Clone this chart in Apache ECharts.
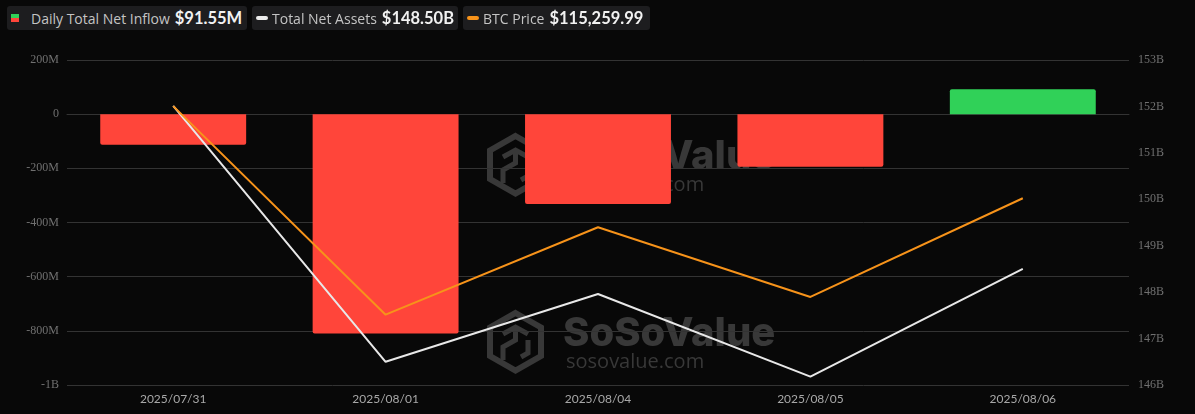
<!DOCTYPE html>
<html>
<head>
<meta charset="utf-8">
<script src="https://cdn.jsdelivr.net/npm/echarts@6/dist/echarts.min.js"></script>
<style>
  html, body { margin:0; padding:0; background:#080808; }
  #chart { position:absolute; left:0; top:0; width:1195px; height:414px; }
  .lg { position:absolute; top:6px; height:24px; background:#1d1d1f; border-radius:3px;
        display:flex; align-items:center; font-family:Lato, "Open Sans", sans-serif; white-space:nowrap; z-index:5; }
  .lg .t { font-size:14px; color:#c4c4c4; font-family:"Open Sans", sans-serif; letter-spacing:0; }
  .lg .v { font-size:16.5px; font-weight:700; color:#f2f2f2; margin-left:5px; }
  .ic2 { width:8px; height:8px; display:inline-block; margin:0 12px 0 0; background:linear-gradient(#30d158 50%, #ff453a 50%); }
  .pill { width:12px; height:4px; border-radius:2px; display:inline-block; margin-right:4px; }
</style>
</head>
<body>
<div id="chart"></div>
<div class="lg" style="left:7px;width:240px;padding-left:4px;box-sizing:border-box;"><span class="ic2"></span><span class="t">Daily Total Net Inflow</span><span class="v">$91.55M</span></div>
<div class="lg" style="left:252px;width:206px;padding-left:4px;box-sizing:border-box;"><span class="pill" style="background:#ececec"></span><span class="t">Total Net Assets</span><span class="v">$148.50B</span></div>
<div class="lg" style="left:463px;width:187px;padding-left:4px;box-sizing:border-box;"><span class="pill" style="background:#f7931a"></span><span class="t">BTC Price</span><span class="v">$115,259.99</span></div>
<script>
// ---- data ----
const categories = ['2025/07/31', '2025/08/01', '2025/08/04', '2025/08/05', '2025/08/06'];
const netInflowM = [-112.6, -810.0, -332.0, -194.5, 91.55];      // millions USD
const totalNetAssetsB = [152.01, 146.50, 147.96, 146.18, 148.50]; // billions USD
const btcPrice = [116820, 113290, 114770, 113590, 115259.99];    // USD
const leftTicks = { min: -1000, max: 200, interval: 200 };
const rightTicks = { min: 146, max: 153, interval: 1 };
const btcRange = { min: 112100, max: 117600 };

const chart = echarts.init(document.getElementById('chart'), null, { renderer: 'canvas' });

const wm = '#383838';
function watermark(top) {
  return {
    type: 'group', left: 487, top: top, z: -10, silent: true,
    children: [
      { type: 'polygon', shape: { points: [[27.5,3],[53,17.5],[53,46],[27.5,60.5],[2,46],[2,17.5]] },
        style: { fill: 'none', stroke: wm, lineWidth: 6, lineJoin: 'miter' }, z: -10 },
      { type: 'polyline', shape: { points: [[15,24],[27.5,17],[40,24]] }, style: { fill:'none', stroke: wm, lineWidth: 5 }, z:-10 },
      { type: 'polyline', shape: { points: [[27.5,17],[27.5,30],[15,37],[15,50]] }, style: { fill:'none', stroke: wm, lineWidth: 5 }, z:-10 },
      { type: 'polyline', shape: { points: [[40,30],[40,43],[33,47]] }, style: { fill:'none', stroke: wm, lineWidth: 5 }, z:-10 },
      { type: 'text', x: 75, y: 24, style: { text: 'SoSoValue', fill: wm, font: '800 40px Inter, sans-serif', verticalAlign: 'middle' }, z: -10 },
      { type: 'text', x: 78, y: 52, style: { text: 'sosovalue.com', fill: wm, font: '400 20px "Open Sans", sans-serif', verticalAlign: 'middle' }, z: -10 }
    ]
  };
}

const axisLabelFont = { fontFamily: '"Liberation Serif", "Times New Roman", serif', fontSize: 12, color: '#707070' };

chart.setOption({
  backgroundColor: '#080808',
  animation: false,
  graphic: [watermark(133), watermark(310)],
  grid: { left: 67, right: 66, top: 60, bottom: 29 },
  xAxis: {
    type: 'category', data: categories,
    axisLine: { show: true, lineStyle: { color: '#333' } },
    axisTick: { show: false },
    axisLabel: { color: '#a8a8a8', fontSize: 12, fontFamily: 'Lato, sans-serif', margin: 8 }
  },
  yAxis: [
    { type: 'value', position: 'left', min: leftTicks.min, max: leftTicks.max, interval: leftTicks.interval,
      axisLine: { show: false }, axisTick: { show: false },
      splitLine: { lineStyle: { color: '#333', width: 1 } },
      axisLabel: Object.assign({ margin: 8, formatter: v => v === 0 ? '0' : (Math.abs(v) >= 1000 ? (v/1000) + 'B' : v + 'M') }, axisLabelFont) },
    { type: 'value', position: 'right', min: rightTicks.min, max: rightTicks.max, interval: rightTicks.interval,
      axisLine: { show: false }, axisTick: { show: false }, splitLine: { show: false },
      axisLabel: Object.assign({ margin: 9, formatter: '{value}B' }, axisLabelFont) },
    { type: 'value', show: false, min: btcRange.min, max: btcRange.max, splitLine: { show: false } }
  ],
  series: [
    { name: 'Daily Total Net Inflow', type: 'bar', yAxisIndex: 0, barWidth: '68.7%',
      data: netInflowM.map(v => ({ value: v, itemStyle: { color: v >= 0 ? '#30d158' : '#ff453a',
             borderRadius: v >= 0 ? [2,2,0,0] : [0,0,2,2] } })), z: 2 },
    { name: 'Total Net Assets', type: 'line', yAxisIndex: 1, data: totalNetAssetsB, showSymbol: false,
      lineStyle: { color: '#e8e8e8', width: 2 }, itemStyle: { color: '#e8e8e8' }, z: 3 },
    { name: 'BTC Price', type: 'line', yAxisIndex: 2, data: btcPrice, showSymbol: false,
      lineStyle: { color: '#f7931a', width: 2 }, itemStyle: { color: '#f7931a' }, z: 4 }
  ]
});
</script>
</body>
</html>
